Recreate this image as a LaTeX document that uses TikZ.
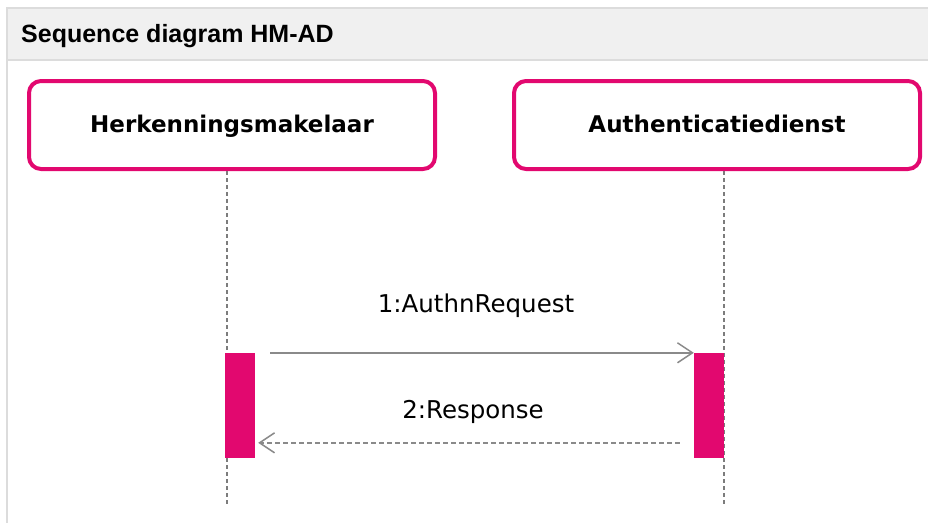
\documentclass[tikz,border=0pt]{standalone}
\usepackage{fontspec}
\setmainfont{DejaVu Sans}
\newfontfamily\titlefont{Liberation Sans}
\usetikzlibrary{arrows.meta,positioning}
\definecolor{sdpink}{HTML}{E2086F}
\definecolor{sdgray}{HTML}{8A8A8A}
\definecolor{sdhead}{HTML}{F0F0F0}
\definecolor{sdrule}{HTML}{DCDCDC}
\tikzset{
  actor/.style={draw=sdpink,line width=4pt,rounded corners=12pt,fill=white,inner sep=0pt,
    minimum width=406pt,minimum height=88pt,text depth=0pt,font=\fontsize{23}{27}\selectfont\bfseries},
  bar/.style={fill=sdpink,inner sep=0pt,minimum width=30pt,minimum height=105pt},
  life/.style={draw=sdgray!90!black,line width=1.2pt,dash pattern=on 4pt off 3pt},
  msg/.style={draw=sdgray,line width=1.5pt,-{Straight Barb[length=15pt,width=20pt,line width=1.5pt]}},
  reply/.style={msg,dash pattern=on 5pt off 3pt},
  lbl/.style={font=\fontsize{24.5}{28}\selectfont,inner sep=0pt,anchor=base},
}

\begin{document}
\begin{tikzpicture}[x=1pt,y=-1pt]
  \useasboundingbox (0,0) rectangle (928,523);
  % header band
  \fill[sdhead] (7,8) rectangle (928,60);
  \draw[sdrule,line width=2pt] (928,8) -- (7,8) -- (7,523);
  \draw[sdrule,line width=2pt] (7,60) -- (928,60);
  \node[anchor=base west,inner sep=0pt,font=\titlefont\fontsize{25}{29}\selectfont\bfseries] (title) at (21,42) {Sequence diagram HM-AD};

  % actors
  \node[actor] (hm) at (232,125) {\raisebox{2pt}{Herkenningsmakelaar}};
  \node[actor] (ad) at (717,125) {\raisebox{2pt}{Authenticatiedienst}};

  % lifelines
  \coordinate (hmend) at (227,505);
  \coordinate (adend) at (724,505);
  \draw[life] (hmend |- hm.south) -- (hmend);
  \draw[life] (adend |- ad.south) -- (adend);

  % activations
  \node[bar] (hmact) at (240,405.5) {};
  \node[bar] (adact) at (709,405.5) {};

  % messages
  \draw[msg] ([xshift=15pt]hmact.north east) -- (adact.north west);
  \draw[reply] ([xshift=-14pt,yshift=-90pt]adact.north west) -- ([xshift=3pt,yshift=-90pt]hmact.north east);
  \node[lbl] (req) at (476,312) {1:AuthnRequest};
  \node[lbl] (resp) at (473,418) {2:Response};
\end{tikzpicture}
\end{document}
